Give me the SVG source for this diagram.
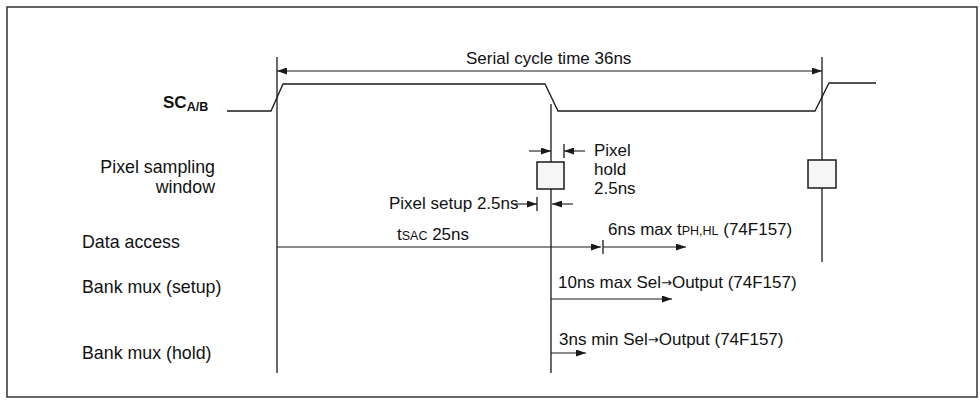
<svg xmlns="http://www.w3.org/2000/svg" width="980" height="408" viewBox="0 0 980 408">
<defs>
<style>
.t{font-family:"Liberation Sans",Arial,sans-serif;font-size:17px;fill:#111}
.lb{font-size:17.8px}
.sm{font-size:12.5px}
.b{font-weight:bold}
.ar{font-family:"DejaVu Sans",sans-serif;font-size:13px}
.ln{stroke:#1a1a1a;stroke-width:1.3;fill:none}
.dim{stroke:#1a1a1a;stroke-width:1.1;fill:none;marker-end:url(#ah)}
.box{fill:#f6f6f6;stroke:#1a1a1a;stroke-width:1.5}
</style>
<marker id="ah" viewBox="0 0 10 7" refX="10" refY="3.5" markerWidth="11" markerHeight="7" markerUnits="userSpaceOnUse" orient="auto-start-reverse">
<path d="M0,0 L10,3.5 L0,7 z" fill="#1a1a1a"/>
</marker>
</defs>
<rect x="7" y="7" width="970" height="390" fill="#fff" stroke="#333" stroke-width="1.5"/>

<g id="labels">
<text class="t b" x="163" y="108">SC<tspan class="sm" dy="3">A/B</tspan></text>
<text class="t lb" x="215" y="173" text-anchor="end">Pixel sampling</text>
<text class="t lb" x="215" y="193" text-anchor="end">window</text>
<text class="t lb" x="82" y="248">Data access</text>
<text class="t lb" x="82" y="293">Bank mux (setup)</text>
<text class="t lb" x="82" y="359">Bank mux (hold)</text>
</g>

<g id="sc-waveform">
<polyline class="ln" points="227,111 271,111 283,84 545,84 558,111 815,111 829,83 876,83"/>
</g>

<g id="timing-lines">
<line class="ln" x1="277" y1="57" x2="277" y2="373"/>
<line class="ln" x1="551" y1="104" x2="551" y2="373"/>
<line class="ln" x1="822" y1="57" x2="822" y2="262"/>
</g>

<g id="window1">
<rect class="box" x="537" y="162" width="27" height="27"/>
</g>
<g id="window2">
<rect class="box" x="808" y="160" width="28" height="28"/>
</g>

<g id="connectors">
<line class="dim" x1="277" y1="71" x2="822" y2="71" style="marker-start:url(#ah)"/>
<line class="dim" x1="529" y1="151" x2="551" y2="151"/>
<line class="dim" x1="585" y1="151" x2="564" y2="151"/>
<line class="ln" x1="564" y1="144" x2="564" y2="158"/>
<line class="dim" x1="515" y1="204" x2="537" y2="204"/>
<line class="ln" x1="537" y1="197" x2="537" y2="211"/>
<line class="dim" x1="573" y1="204" x2="552" y2="204"/>
<line class="dim" x1="277" y1="247" x2="601" y2="247"/>
<line class="ln" x1="603" y1="240" x2="603" y2="254"/>
<line class="dim" x1="603" y1="247" x2="686" y2="247"/>
<line class="dim" x1="551" y1="299" x2="672" y2="299"/>
<line class="dim" x1="551" y1="353" x2="586" y2="353"/>
</g>

<g id="dim-labels">
<text class="t" x="466" y="64">Serial cycle time 36ns</text>
<text class="t" x="594" y="156">Pixel</text>
<text class="t" x="594" y="175">hold</text>
<text class="t" x="594" y="194">2.5ns</text>
<text class="t" x="389" y="209">Pixel setup 2.5ns</text>
<text class="t" x="397" y="240">t<tspan class="sm">SAC</tspan> 25ns</text>
<text class="t" x="608" y="235">6ns max t<tspan class="sm">PH,HL</tspan> (74F157)</text>
<text class="t" x="558" y="288">10ns max Sel<tspan class="ar" dy="-1">→</tspan><tspan dy="1">Output (74F157)</tspan></text>
<text class="t" x="559" y="345">3ns min Sel<tspan class="ar" dy="-1">→</tspan><tspan dy="1">Output (74F157)</tspan></text>
</g>
</svg>
